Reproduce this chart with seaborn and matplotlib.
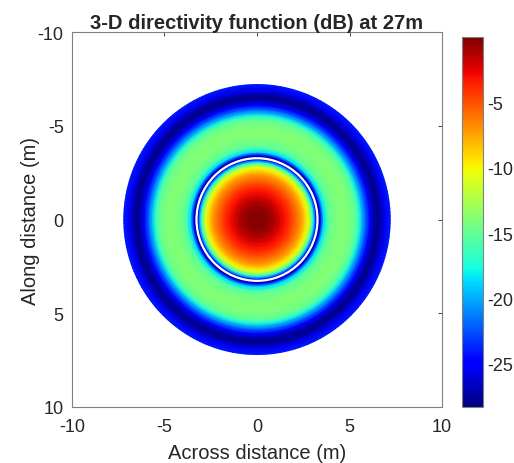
import numpy as np
import seaborn as sns
import matplotlib.pyplot as plt
from matplotlib.patches import Circle

# radial profile of the directivity (m, dB)
radius_m = [0.0, 0.5, 1.0, 1.5, 1.75, 2.0, 2.25, 2.4, 2.6, 2.75, 2.9, 3.0, 3.1, 3.2, 3.3,
            3.4, 3.5, 3.6, 3.8, 4.0, 4.3, 4.65, 5.0, 5.3, 5.5, 5.7, 5.9, 6.1, 6.3, 6.5,
            6.7, 6.9, 7.2]
level_db = [0.0, -0.4, -1.5, -3.2, -4.0, -5.2, -6.5, -7.2, -9.0, -10.5, -13.5, -16.0, -20.0,
            -25.0, -28.3, -26.0, -22.0, -18.5, -16.0, -14.8, -14.2, -13.9, -14.2, -15.0,
            -17.0, -20.0, -22.5, -25.0, -27.0, -28.0, -27.0, -25.5, -24.0]
contour_radius = 3.27
cbar_ticks = [-25, -20, -15, -10, -5]
axis_ticks = [-10, -5, 0, 5, 10]

sns.set_style("white")
plt.rcParams['font.family'] = ['Liberation Sans', 'DejaVu Sans']
plt.rcParams['axes.unicode_minus'] = False
grey = '#262626'

fig = plt.figure(figsize=(5.14, 4.64), dpi=100)
ax = fig.add_axes([0.140, 0.1207, 0.720, 0.808])
cax = fig.add_axes([0.899, 0.1207, 0.041, 0.797])

# polar mesh: the profile is swept around the centre
theta = np.linspace(0, 2 * np.pi, 241)
R, T = np.meshgrid(np.array(radius_m), theta)
C = np.tile(np.array(level_db), (len(theta), 1))
X = R * np.cos(T)
Y = R * np.sin(T)

cmap = plt.get_cmap("jet")
mesh = ax.pcolormesh(X, Y, C, shading='gouraud', cmap=cmap, vmin=-28.3, vmax=0,
                     rasterized=True)
ax.add_patch(Circle((0, 0), contour_radius, fill=False, edgecolor='white', linewidth=1.6))

ax.set_xlim(-10, 10)
ax.set_ylim(10, -10)
ax.set_xticks(axis_ticks)
ax.set_yticks(axis_ticks)
ax.tick_params(direction='in', top=True, right=True, length=3, width=0.6,
               colors=grey, labelsize=13)
ax.tick_params(axis='x', pad=8)
ax.tick_params(axis='y', pad=6)
for s in ax.spines.values():
    s.set_color('#808080')
    s.set_linewidth(0.8)
ax.set_xlabel("Across distance (m)", fontsize=14.5, color=grey, labelpad=6)
ax.set_ylabel("Along distance (m)", fontsize=14.5, color=grey, labelpad=-1.5)
ax.set_title("3-D directivity function (dB) at 27m", fontsize=14.5, fontweight='bold',
             pad=3)

cb = fig.colorbar(mesh, cax=cax, ticks=cbar_ticks)
cb.ax.tick_params(direction='in', length=3, width=0.6, colors=grey, labelsize=13, pad=3)
cb.outline.set_edgecolor('#808080')
cb.outline.set_linewidth(0.8)

fig.savefig("out.png", dpi=100)
